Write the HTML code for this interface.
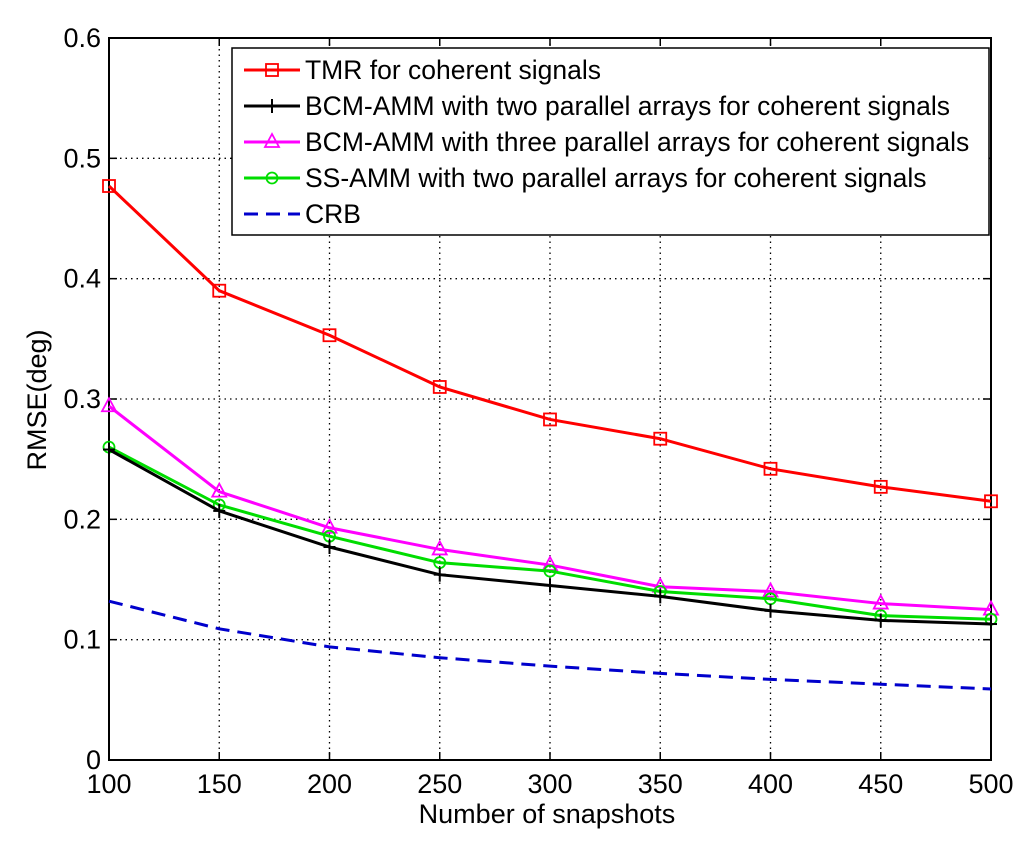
<!DOCTYPE html>
<html><head><meta charset="utf-8"><style>
body{margin:0;background:#fff;}
svg{display:block;font-family:"Liberation Sans",Arial,sans-serif;}
</style></head><body>
<svg id="c" width="1024" height="846" viewBox="0 0 1024 846"></svg>
<script>
const xs=[100,150,200,250,300,350,400,450,500];
const tmr=[0.477,0.390,0.353,0.310,0.283,0.267,0.242,0.227,0.215];
const bcm2=[0.258,0.207,0.177,0.154,0.145,0.136,0.124,0.116,0.113];
const bcm3=[0.294,0.223,0.193,0.175,0.162,0.144,0.140,0.130,0.125];
const ss2=[0.260,0.212,0.186,0.164,0.157,0.140,0.134,0.120,0.117];
const crb=[0.132,0.109,0.094,0.085,0.078,0.072,0.067,0.063,0.059];
const xTicks=[100,150,200,250,300,350,400,450,500];
const yTicks=[0,0.1,0.2,0.3,0.4,0.5,0.6];
const legendLabels=["TMR for coherent signals","BCM-AMM with two parallel arrays for coherent signals","BCM-AMM with three parallel arrays for coherent signals","SS-AMM with two parallel arrays for coherent signals","CRB"];

const L=109,R=991,T=38,B=760;
const X=v=>L+(v-100)/400*(R-L);
const Y=v=>B-v/0.6*(B-T);
const svg=document.getElementById('c');
const NS='http://www.w3.org/2000/svg';
function mk(tag,attrs,parent){const e=document.createElementNS(NS,tag);for(const k in attrs)e.setAttribute(k,attrs[k]);(parent||svg).appendChild(e);return e;}

xTicks.forEach(t=>{
 if(t!==100&&t!==500){const g=mk('line',{x1:X(t),x2:X(t),y1:T,y2:B,stroke:'#000','stroke-width':1.3,'stroke-dasharray':'1.5,4'});
 
 }
 const tk=mk('line',{x1:X(t),x2:X(t),y1:B,y2:B-8,stroke:'#000','stroke-width':1.5});
 
 
 const tk2=mk('line',{x1:X(t),x2:X(t),y1:T,y2:T+8,stroke:'#000','stroke-width':1.5});
 
 
 const tx=mk('text',{x:X(t),y:B+33,'text-anchor':'middle','font-size':27});
 tx.textContent=t;
 
 
});
yTicks.forEach(t=>{
 if(t!==0&&t!==0.6){const g=mk('line',{x1:L,x2:R,y1:Y(t),y2:Y(t),stroke:'#000','stroke-width':1.3,'stroke-dasharray':'1.5,4'});
 
 }
 const tk=mk('line',{x1:L,x2:L+8,y1:Y(t),y2:Y(t),stroke:'#000','stroke-width':1.5});
 
 
 const tk2=mk('line',{x1:R,x2:R-8,y1:Y(t),y2:Y(t),stroke:'#000','stroke-width':1.5});
 
 
 const tx=mk('text',{x:L-8,y:Y(t)+9,'text-anchor':'end','font-size':27});
 tx.textContent=t===0?'0':t.toFixed(1);
 
 
});
const frame=mk('rect',{x:L,y:T,width:R-L,height:B-T,fill:'none',stroke:'#000','stroke-width':2});



function marker(type,x,y,color,g){
 if(type==='sq')mk('rect',{x:x-6,y:y-6,width:12,height:12,fill:'none',stroke:color,'stroke-width':1.8},g);
 else if(type==='plus'){mk('line',{x1:x-6,x2:x+6,y1:y,y2:y,stroke:color,'stroke-width':2},g);mk('line',{x1:x,x2:x,y1:y-7,y2:y+7,stroke:color,'stroke-width':2},g);}
 else if(type==='tri')mk('polygon',{points:`${x},${y-8} ${x-7},${y+5} ${x+7},${y+5}`,fill:'none',stroke:color,'stroke-width':1.8},g);
 else if(type==='circ')mk('circle',{cx:x,cy:y,r:5.5,fill:'none',stroke:color,'stroke-width':1.8},g);
}
const series=[
 {d:tmr,c:'#ff0000',m:'sq',n:'series-tmr'},
 {d:crb,c:'#0000cc',m:null,n:'series-crb',dash:'14,8'},
 {d:bcm2,c:'#000000',m:'plus',n:'series-bcm-amm-two'},
 {d:ss2,c:'#00dd00',m:'circ',n:'series-ss-amm-two'},
 {d:bcm3,c:'#ff00ff',m:'tri',n:'series-bcm-amm-three'}
];
[series[0],series[1],series[4],series[3],series[2]].forEach(s=>{
 const g=mk('g',{});
 
 
 mk('polyline',{points:s.d.map((v,i)=>X(xs[i])+','+Y(v)).join(' '),fill:'none',stroke:s.c,'stroke-width':3,'stroke-dasharray':s.dash||'none'},g);
 if(s.m)s.d.forEach((v,i)=>marker(s.m,X(xs[i]),Y(v),s.c,g));
});

const lg=mk('g',{});


mk('rect',{x:232,y:48,width:757,height:187,fill:'#fff',stroke:'#000','stroke-width':1.5},lg);
const legSpec=[['#ff0000','sq',null],['#000','plus',null],['#ff00ff','tri',null],['#00dd00','circ',null],['#0000cc',null,'14,8']];
legSpec.forEach((s,i)=>{
 const y=70+i*36;
 const e=mk('g',{},lg);
 
 
 mk('line',{x1:244,x2:300,y1:y,y2:y,stroke:s[0],'stroke-width':3,'stroke-dasharray':s[2]||'none'},e);
 if(s[1])marker(s[1],272,y,s[0],e);
 const t=mk('text',{x:305,y:y+9,'font-size':26.5},e);
 t.textContent=legendLabels[i];
});
const xl=mk('text',{x:547,y:823,'text-anchor':'middle','font-size':27});
xl.textContent='Number of snapshots';


const yl=mk('text',{x:0,y:0,'text-anchor':'middle','font-size':27,transform:'translate(46,400) rotate(-90)'});
yl.textContent='RMSE(deg)';


</script>
</body></html>
